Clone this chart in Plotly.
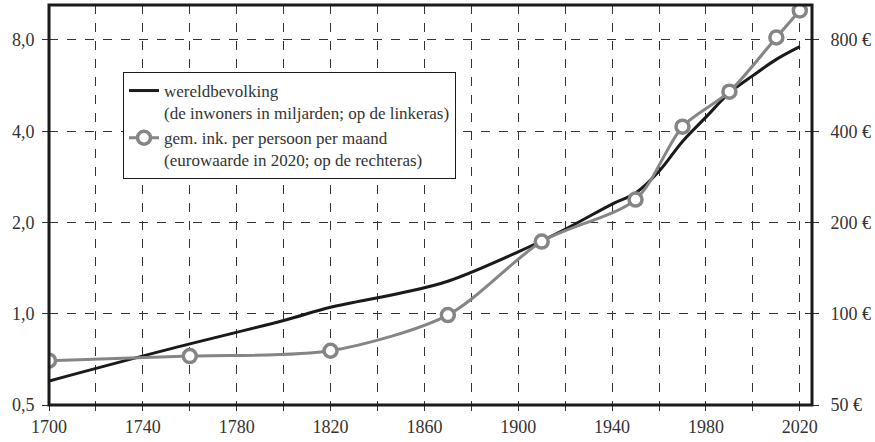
import numpy as np
import plotly.graph_objects as go

# Population (billions), left axis
pop_years = [1700, 1750, 1800, 1820, 1850, 1870, 1900, 1920, 1940, 1950, 1960, 1970, 1980, 1990, 2000, 2010, 2020]
pop_values = [0.60, 0.76, 0.95, 1.05, 1.17, 1.28, 1.6, 1.9, 2.3, 2.5, 2.95, 3.7, 4.45, 5.35, 6.1, 6.9, 7.6]

# Average income per person per month (euro, 2020 value), right axis
inc_years = [1700, 1760, 1820, 1870, 1910, 1950, 1970, 1990, 2010, 2020]
inc_values = [70, 72.5, 75.5, 99, 173, 238, 414, 540, 815, 1000]

x_tickvals = list(range(1700, 2021, 20))
x_ticktext = [str(v) if (v - 1700) % 40 == 0 else "" for v in x_tickvals]
left_tickvals = [0.5, 1, 2, 4, 8]
left_ticktext = ["0,5", "1,0", "2,0", "4,0", "8,0"]
right_tickvals = [50, 100, 200, 400, 800]
right_ticktext = ["50 €", "100 €", "200 €", "400 €", "800 €"]

font_family = "Liberation Serif"
txt_color = "#333333"

fig = go.Figure()
fig.add_trace(go.Scatter(
    x=pop_years, y=pop_values, mode="lines",
    line=dict(color="#1a1a1a", width=3, shape="spline", smoothing=1.0),
    name="wereldbevolking<br>(de inwoners in miljarden; op de linkeras)",
    yaxis="y",
))
fig.add_trace(go.Scatter(
    x=inc_years, y=inc_values, mode="lines+markers",
    line=dict(color="#858585", width=3, shape="spline", smoothing=0.8),
    marker=dict(size=13, color="white", line=dict(color="#858585", width=3.5)),
    name="gem. ink. per persoon per maand<br>(eurowaarde in 2020; op de rechteras)",
    yaxis="y2",
))

top_factor = 10.43 / 8.0
fig.update_layout(
    width=875, height=442,
    margin=dict(l=49, r=63, t=5, b=37),
    paper_bgcolor="white", plot_bgcolor="white",
    font=dict(family=font_family, size=18, color=txt_color),
    showlegend=True,
    legend=dict(
        x=0.097, y=0.8325, xanchor="left", yanchor="top",
        bgcolor="white", bordercolor="#1a1a1a", borderwidth=1,
        font=dict(family=font_family, size=17, color=txt_color),
        valign="top", tracegroupgap=16,
    ),
    xaxis=dict(
        range=[1700, 2025.2], tickvals=x_tickvals, ticktext=x_ticktext,
        showgrid=True, gridcolor="#333333", griddash="dash", gridwidth=1,
        ticks="outside", ticklen=5, tickcolor="#333333",
        zeroline=False, showline=False, automargin=False,
    ),
    yaxis=dict(
        type="log", range=[np.log10(0.5), np.log10(8 * top_factor)],
        tickvals=left_tickvals, ticktext=left_ticktext,
        showgrid=True, gridcolor="#333333", griddash="dash", gridwidth=1,
        ticks="outside", ticklen=6, tickcolor="#333333",
        zeroline=False, showline=False, automargin=False,
        ticklabelstandoff=4,
    ),
    yaxis2=dict(
        type="log", range=[np.log10(50), np.log10(800 * top_factor)],
        tickvals=right_tickvals, ticktext=right_ticktext,
        overlaying="y", side="right", showgrid=False,
        ticks="outside", ticklen=6, tickcolor="#333333",
        zeroline=False, showline=False, automargin=False,
        ticklabelstandoff=8,
    ),
    shapes=[dict(type="rect", xref="paper", yref="paper", x0=0, x1=1, y0=0, y1=1,
                 line=dict(color="#1a1a1a", width=3), layer="above")],
)

fig.write_html("out.html", config={"displayModeBar": False},
               post_script="document.body.style.margin='0';")
